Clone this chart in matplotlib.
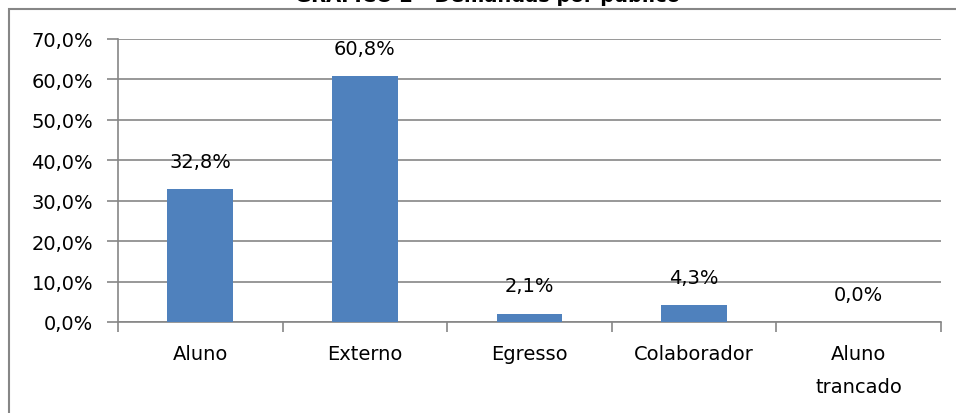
import matplotlib
matplotlib.use("Agg")
import matplotlib.pyplot as plt
from matplotlib.patches import Rectangle

categories = ["Aluno", "Externo", "Egresso", "Colaborador", "Aluno\ntrancado"]
values = [32.8, 60.8, 2.1, 4.3, 0.0]
yticks = [0, 10, 20, 30, 40, 50, 60, 70]
title = "GRÁFICO 2 - Demandas por público"

plt.rcParams['font.family'] = ['DejaVu Sans']
fs = 14

W, H = 956, 414
fig = plt.figure(figsize=(W / 100, H / 100), dpi=100)
ax = fig.add_axes([118 / W, 1 - 323 / H, (941 - 118) / W, (323 - 40) / H])

grid_c = "#868686"
x = list(range(len(categories)))
ax.bar(x, values, width=0.4, color="#4F81BD", zorder=3)

for xi, v in zip(x, values):
    ax.annotate(f"{v:.1f}%".replace(".", ","), (xi, v), xytext=(0, 13),
                textcoords="offset points", ha="center", va="bottom", fontsize=fs)

ax.set_xlim(-0.5, len(categories) - 0.5)
ax.set_ylim(0, 70)
ax.set_yticks(yticks)
ax.set_yticklabels([f"{t:.1f}%".replace(".", ",") for t in yticks], fontsize=fs)
ax.yaxis.grid(True, color=grid_c, linewidth=1.2, zorder=0)

ax.set_xticks([i - 0.5 for i in range(len(categories) + 1)])
ax.set_xticklabels([])
ax.set_xticks(x, minor=True)
ax.set_xticklabels(categories, minor=True, fontsize=fs, linespacing=1.95)
ax.tick_params(axis="x", which="minor", length=0, pad=16)
ax.tick_params(axis="x", which="major", length=7, color=grid_c, width=1.2, direction="out")
ax.tick_params(axis="y", length=8, color=grid_c, width=1.2, pad=10)

for s in ["top", "right"]:
    ax.spines[s].set_visible(False)
for s in ["left", "bottom"]:
    ax.spines[s].set_color(grid_c)
    ax.spines[s].set_linewidth(1.2)

fig.patches.append(Rectangle((9 / W, -0.5), 2.0, 1.5 - 10 / H, transform=fig.transFigure,
                             fill=False, edgecolor=grid_c, linewidth=1.5))
fig.text(488 / W, 1 - 2.5 / H, title, ha="center", va="baseline", fontsize=fs, fontweight="bold")

fig.savefig("out.png", dpi=100)
